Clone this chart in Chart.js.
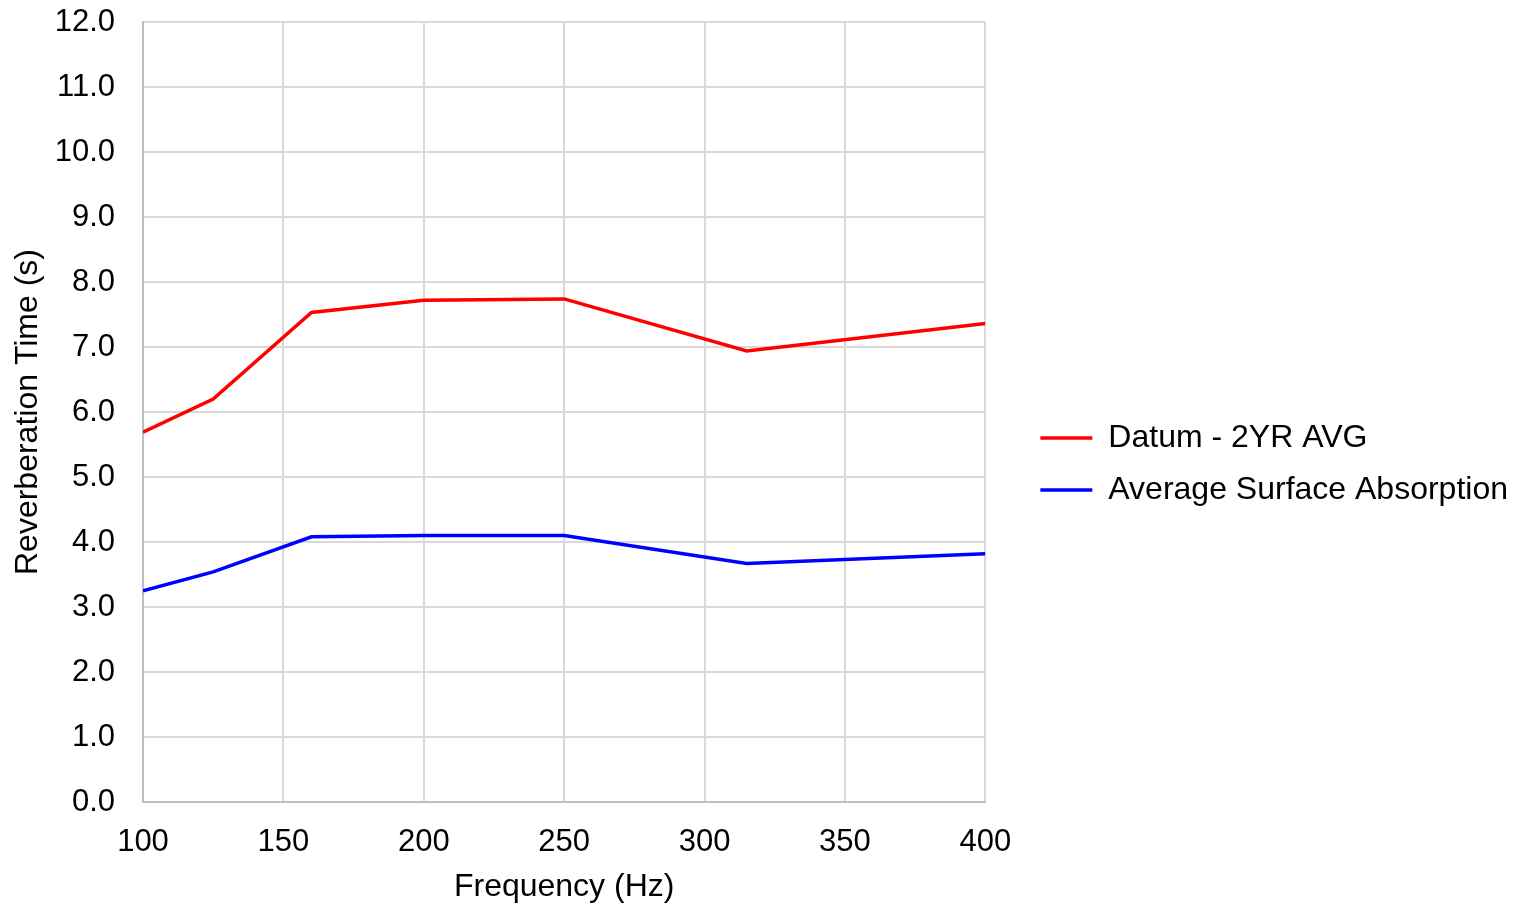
<!DOCTYPE html>
<html>
<head>
<meta charset="utf-8">
<script src="https://cdn.jsdelivr.net/npm/chart.js@4"></script>
<style>
  html, body { margin: 0; padding: 0; background: #fff; }
  #wrap { width: 1518px; height: 906px; }
</style>
</head>
<body>
<div id="wrap"><canvas id="grafico"></canvas></div>
<script>
// values
const frequencias = [100, 125, 160, 200, 250, 315, 400];
const datum2yr = [5.69, 6.20, 7.53, 7.72, 7.74, 6.94, 7.36];
const absorcao = [3.25, 3.54, 4.08, 4.10, 4.10, 3.67, 3.82];
const serieNomes = ["Datum - 2YR AVG", "Average Surface Absorption"];

const fonte = "'Liberation Sans', Arial, sans-serif";
const folga = 35;

// pushes the legend a bit away from the plot, like the original
const folgaLegenda = {
    id: 'folgaLegenda',
    beforeLayout(chart) {
        const lg = chart.legend;
        if (lg && !lg._folga) {
            const fit = lg.fit;
            lg.fit = function () { fit.call(this); this.width += folga; };
            lg._folga = true;
        }
    },
    afterLayout(chart) {
        if (chart.legend) chart.legend.left += folga;
    }
};

const ctx = document.getElementById('grafico').getContext('2d');
new Chart(ctx, {
    type: 'line',
    data: {
        datasets: [{
            label: serieNomes[0],
            data: frequencias.map((f, i) => ({ x: f, y: datum2yr[i] })),
            borderColor: '#ff0000',
            backgroundColor: '#ff0000',
            borderWidth: 3.5,
            pointRadius: 0,
            tension: 0
        }, {
            label: serieNomes[1],
            data: frequencias.map((f, i) => ({ x: f, y: absorcao[i] })),
            borderColor: '#0000ff',
            backgroundColor: '#0000ff',
            borderWidth: 3.5,
            pointRadius: 0,
            tension: 0
        }]
    },
    options: {
        responsive: true,
        maintainAspectRatio: false,
        animation: false,
        layout: { padding: { top: 22, bottom: 0, left: 0, right: 0 } },
        plugins: {
            tooltip: { enabled: false },
            legend: {
                position: 'right',
                maxWidth: 700,
                labels: {
                    usePointStyle: true,
                    pointStyle: 'line',
                    pointStyleWidth: 52,
                    padding: 20,
                    color: '#000',
                    font: { family: fonte, size: 32 }
                }
            }
        },
        scales: {
            x: {
                type: 'linear',
                min: 100,
                max: 400,
                afterFit: s => { s.height = 104; },
                ticks: {
                    stepSize: 50,
                    padding: 22,
                    color: '#000',
                    font: { family: fonte, size: 31 }
                },
                grid: { color: '#d9d9d9', lineWidth: 2, drawTicks: false },
                border: { color: '#bfbfbf', width: 2 },
                title: {
                    display: true,
                    text: 'Frequency (Hz)',
                    color: '#000',
                    font: { family: fonte, size: 32 },
                    padding: { top: 7, bottom: 0 }
                }
            },
            y: {
                min: 0,
                max: 12,
                afterFit: s => { s.width = 143; s.paddingTop = 18; },
                ticks: {
                    stepSize: 1,
                    padding: 28,
                    color: '#000',
                    font: { family: fonte, size: 31 },
                    callback: v => v.toFixed(1)
                },
                grid: { color: '#d9d9d9', lineWidth: 2, drawTicks: false },
                border: { color: '#bfbfbf', width: 2 },
                title: {
                    display: true,
                    text: 'Reverberation Time (s)',
                    color: '#000',
                    font: { family: fonte, size: 32 },
                    padding: { top: 9, bottom: 7 }
                }
            }
        }
    },
    plugins: [folgaLegenda]
});
</script>
</body>
</html>
